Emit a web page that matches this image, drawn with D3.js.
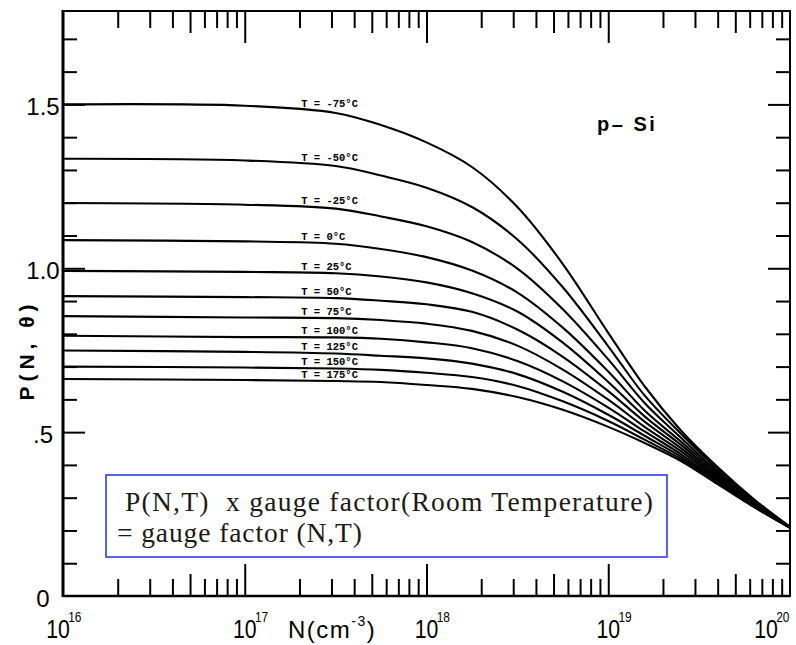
<!DOCTYPE html>
<html>
<head>
<meta charset="utf-8">
<script src="https://cdn.jsdelivr.net/npm/d3@7"></script>
<style>
  html, body { margin: 0; padding: 0; background: #fff; }
  svg { display: block; }
</style>
</head>
<body>
<svg id="chart" width="796" height="645"></svg>
<script>
// Acceptor concentration grid, as log10(N / cm^-3)
const logN = [16, 17, 17.5, 17.75, 18, 18.25, 18.5, 18.75, 19, 19.2, 19.4, 19.6, 19.8, 20];

// Temperature of each curve (°C)
const temperatures = ["-75", "-50", "-25", "0", "25", "50", "75", "100", "125", "150", "175"];

// Piezoresistance factor P(N, T) for p-type silicon, one array per temperature
const pM75 = [1.500, 1.496, 1.474, 1.437, 1.384, 1.309, 1.187, 1.013, 0.803, 0.640, 0.505, 0.394, 0.296, 0.211];
const pM50 = [1.334, 1.329, 1.312, 1.283, 1.246, 1.187, 1.088, 0.942, 0.762, 0.612, 0.495, 0.387, 0.293, 0.211];
const pM25 = [1.199, 1.194, 1.182, 1.158, 1.128, 1.080, 0.999, 0.875, 0.722, 0.589, 0.483, 0.380, 0.290, 0.210];
const p0   = [1.086, 1.082, 1.075, 1.059, 1.034, 0.993, 0.926, 0.819, 0.685, 0.566, 0.471, 0.374, 0.287, 0.210];
const p25  = [0.992, 0.989, 0.985, 0.975, 0.957, 0.924, 0.868, 0.773, 0.653, 0.548, 0.461, 0.368, 0.284, 0.210];
const p50  = [0.915, 0.912, 0.909, 0.901, 0.890, 0.867, 0.813, 0.730, 0.625, 0.532, 0.451, 0.363, 0.281, 0.209];
const p75  = [0.854, 0.850, 0.848, 0.842, 0.831, 0.809, 0.764, 0.691, 0.599, 0.516, 0.442, 0.358, 0.279, 0.209];
const p100 = [0.794, 0.790, 0.789, 0.785, 0.774, 0.756, 0.717, 0.655, 0.575, 0.502, 0.433, 0.353, 0.277, 0.209];
const p125 = [0.749, 0.745, 0.740, 0.733, 0.725, 0.709, 0.677, 0.623, 0.553, 0.489, 0.425, 0.349, 0.275, 0.209];
const p150 = [0.700, 0.697, 0.694, 0.690, 0.681, 0.668, 0.641, 0.594, 0.534, 0.477, 0.418, 0.345, 0.273, 0.208];
const p175 = [0.662, 0.659, 0.656, 0.653, 0.644, 0.632, 0.607, 0.568, 0.516, 0.467, 0.412, 0.342, 0.272, 0.208];

const series = [pM75, pM50, pM25, p0, p25, p50, p75, p100, p125, p150, p175];

// Axis ticks
const xDecades = [16, 17, 18, 19, 20];
const yMajorTicks = [0.5, 1.0, 1.5];
const yMinorTicks = [0.1, 0.2, 0.3, 0.4, 0.6, 0.7, 0.8, 0.9, 1.1, 1.2, 1.3, 1.4, 1.6, 1.7];
const yTickValues = [0, 0.5, 1.0, 1.5];
const yTickText = ["0", ".5", "1.0", "1.5"];

// Annotation text
const materialLabel = "p\u2013 Si";
const noteLines = ["P(N,T)  x gauge factor(Room Temperature)", "= gauge factor (N,T)"];

const svg = d3.select("#chart");
const plotL = 63, plotR = 790, plotT = 11, plotB = 596;

const x = d3.scaleLog().domain([1e16, 1e20]).range([plotL, plotR]);
const y = d3.scaleLinear().domain([0, 1.785]).range([plotB, plotT]);

svg.append("rect").attr("width", 796).attr("height", 645).attr("fill", "#fff");

// ---- ticks (drawn inward on all four sides) ----
const decadeVals = xDecades.map(e => Math.pow(10, e));
const minorA = [], minorB = [];
xDecades.slice(0, -1).forEach(e => {
  for (let k = 2; k <= 9; k++) (k === 5 ? minorB : minorA).push(k * Math.pow(10, e));
});

function styleTicks(g) {
  g.select(".domain").remove();
  g.selectAll(".tick line").attr("stroke", "#000").attr("stroke-width", 2);
  g.selectAll(".tick text").remove();
}

function xTicks(vals, len) {
  svg.append("g").attr("transform", `translate(0,${plotT})`)
    .call(d3.axisTop(x).tickValues(vals).tickSizeInner(-len).tickSizeOuter(0)).call(styleTicks);
  svg.append("g").attr("transform", `translate(0,${plotB})`)
    .call(d3.axisBottom(x).tickValues(vals).tickSizeInner(-len).tickSizeOuter(0)).call(styleTicks);
}
xTicks(decadeVals.slice(1, -1), 32);
xTicks(minorA, 17);
xTicks(minorB, 22);

function yTicks(vals, len) {
  svg.append("g").attr("transform", `translate(${plotL},0)`)
    .call(d3.axisLeft(y).tickValues(vals).tickSizeInner(-len).tickSizeOuter(0)).call(styleTicks);
  svg.append("g").attr("transform", `translate(${plotR},0)`)
    .call(d3.axisRight(y).tickValues(vals).tickSizeInner(-len).tickSizeOuter(0)).call(styleTicks);
}
yTicks(yMajorTicks, 22);
yTicks(yMinorTicks, 14);

// ---- frame ----
svg.append("line").attr("x1", plotL).attr("x2", plotR).attr("y1", plotT).attr("y2", plotT)
  .attr("stroke", "#000").attr("stroke-width", 2);
svg.append("line").attr("x1", plotL).attr("x2", plotR).attr("y1", plotB).attr("y2", plotB)
  .attr("stroke", "#000").attr("stroke-width", 2.6);
svg.append("line").attr("x1", plotL).attr("x2", plotL).attr("y1", plotT - 1).attr("y2", plotB + 1)
  .attr("stroke", "#000").attr("stroke-width", 3);
svg.append("line").attr("x1", plotR).attr("x2", plotR).attr("y1", plotT - 1).attr("y2", plotB + 1)
  .attr("stroke", "#000").attr("stroke-width", 2);

// ---- curves ----
const line = d3.line()
  .x((d, i) => x(Math.pow(10, logN[i])))
  .y(d => y(d))
  .curve(d3.curveCatmullRom.alpha(0.5));

svg.append("g").selectAll("path").data(series).join("path")
  .attr("d", line)
  .attr("fill", "none")
  .attr("stroke", "#000")
  .attr("stroke-width", 2.1)
  .attr("stroke-linejoin", "round");

// ---- curve labels, sitting on each curve near N = 2e17 ----
const labelExp = 17.3;
svg.append("g").selectAll("text").data(series).join("text")
  .attr("x", x(Math.pow(10, labelExp)) + 2)
  .attr("y", d => y(d3.scaleLinear().domain(logN).range(d)(labelExp)) - 3)
  .attr("font-family", "Liberation Mono, DejaVu Sans Mono, monospace")
  .attr("font-size", 10.5)
  .attr("font-weight", "bold")
  .attr("fill", "#000")
  .text((d, i) => `T = ${temperatures[i]}\u00B0C`);

// ---- y tick labels ----
svg.append("g").selectAll("text").data(yTickValues).join("text")
  .attr("x", 43)
  .attr("y", d => y(d) + 11)
  .attr("text-anchor", "middle")
  .attr("font-family", "Liberation Sans, Arial, sans-serif")
  .attr("font-size", 24)
  .attr("fill", "#000")
  .text((d, i) => yTickText[i]);

// ---- x tick labels: 10 with exponent ----
const xl = svg.append("g").selectAll("g").data(xDecades).join("g")
  .attr("transform", (e, i) => {
    const nudge = i === 0 ? -5 : (i === xDecades.length - 1 ? -24 : 0);
    return `translate(${x(Math.pow(10, e)) + nudge},638)`;
  });
xl.append("text")
  .attr("text-anchor", "middle")
  .attr("transform", "scale(0.85,1)")
  .attr("font-family", "Liberation Sans, Arial, sans-serif")
  .attr("font-size", 25)
  .attr("fill", "#000")
  .text("10");
xl.append("text")
  .attr("x", 12)
  .attr("y", -16)
  .attr("transform", "scale(0.85,1)")
  .attr("font-family", "Liberation Sans, Arial, sans-serif")
  .attr("font-size", 14)
  .attr("fill", "#000")
  .text(e => e);

// ---- axis titles ----
const xt = svg.append("text")
  .attr("x", 288).attr("y", 638)
  .attr("font-family", "Liberation Sans, Arial, sans-serif")
  .attr("font-size", 24)
  .attr("letter-spacing", 1.5)
  .attr("fill", "#000");
xt.append("tspan").text("N(cm");
xt.append("tspan").attr("font-size", 14).attr("dy", -12).text("-3");
xt.append("tspan").attr("dy", 12).text(")");

svg.append("text")
  .attr("transform", "translate(34,350) rotate(-90)")
  .attr("text-anchor", "middle")
  .attr("font-family", "Liberation Sans, Arial, sans-serif")
  .attr("font-size", 21)
  .attr("font-weight", "bold")
  .attr("letter-spacing", 5)
  .attr("fill", "#000")
  .text("P(N, \u03B8)");

// ---- material label ----
svg.append("text")
  .attr("x", 597).attr("y", 131)
  .attr("font-family", "Liberation Sans, Arial, sans-serif")
  .attr("font-size", 20)
  .attr("font-weight", "bold")
  .attr("letter-spacing", 2.5)
  .attr("fill", "#000")
  .text(materialLabel);

// ---- note box ----
svg.append("rect")
  .attr("x", 106).attr("y", 475).attr("width", 561).attr("height", 82)
  .attr("fill", "#fff")
  .attr("stroke", "#2e3cf2")
  .attr("stroke-width", 1.6);

const noteWidths = [528, 245];
svg.append("g").selectAll("text").data(noteLines).join("text")
  .attr("x", (d, i) => i === 0 ? 125 : 117)
  .attr("y", (d, i) => 511 + i * 30.5)
  .attr("font-family", "Liberation Serif, Times New Roman, serif")
  .attr("font-size", 27.5)
  .attr("fill", "#1c1a17")
  .attr("textLength", (d, i) => noteWidths[i])
  .attr("lengthAdjust", "spacing")
  .style("white-space", "pre")
  .text(d => d);
</script>
</body>
</html>
